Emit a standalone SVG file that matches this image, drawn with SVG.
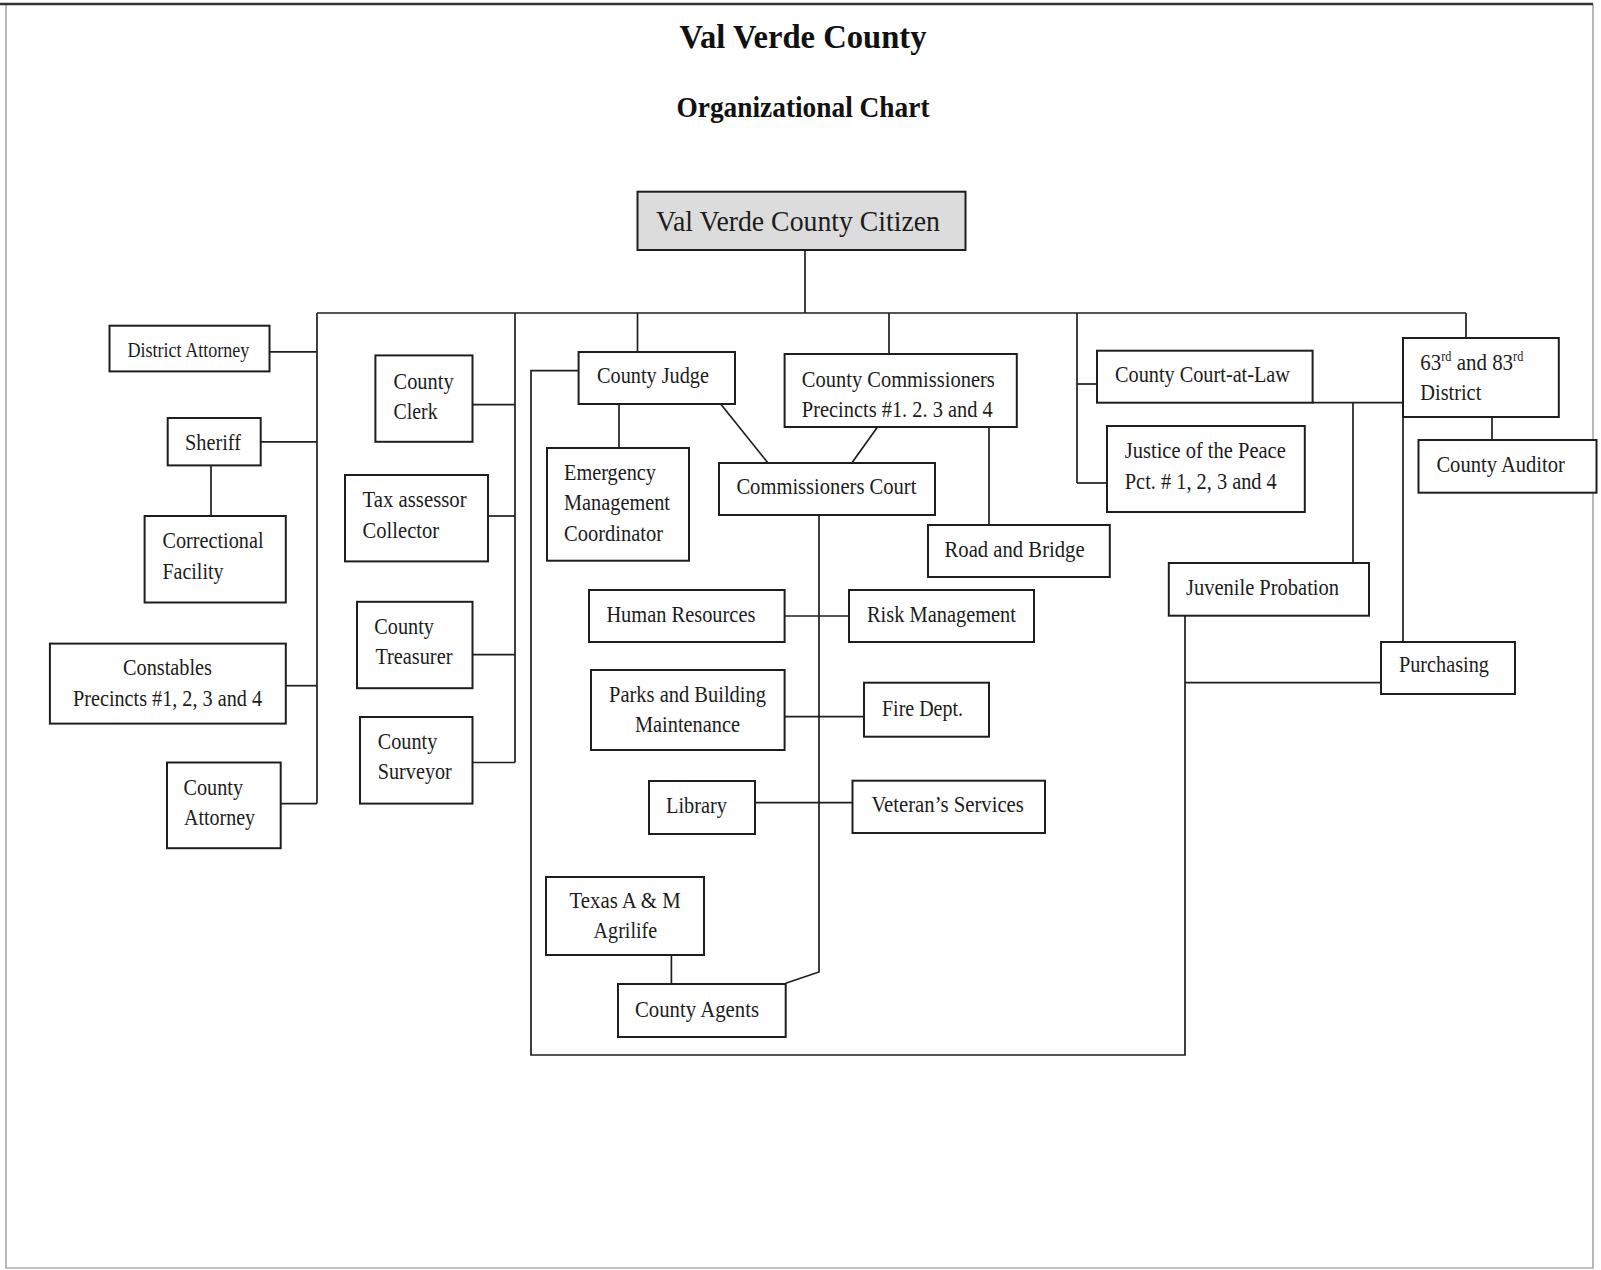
<svg xmlns="http://www.w3.org/2000/svg" width="1601" height="1270" viewBox="0 0 1601 1270">
<style>
.bx{fill:#fff;stroke:#1e1e1e;stroke-width:2}
.ln{fill:none;stroke:#1e1e1e;stroke-width:1.7}
.fr{fill:none;stroke:#8a8a8a;stroke-width:1.2}
.t{font-family:"Liberation Serif","Times New Roman",serif;font-size:24px;fill:#1c1c1c}
.h{font-family:"Liberation Serif","Times New Roman",serif;font-weight:bold;fill:#111}
.sup{font-size:14px;baseline-shift:9px}
</style>
<rect x="0" y="0" width="1601" height="1270" fill="#fff"/>
<g id="frame">
<path class="fr" d="M6,4 V1268 H1593 V4"/>
<path d="M0,4 H1593" stroke="#333" stroke-width="2.5"/>
</g>
<g id="titles">
<text class="h" x="803" y="48" font-size="34" text-anchor="middle" textLength="247" lengthAdjust="spacingAndGlyphs">Val Verde County</text>
<text class="h" x="803" y="117" font-size="30" text-anchor="middle" textLength="253" lengthAdjust="spacingAndGlyphs">Organizational Chart</text>
</g>
<g id="connectors">
<path class="ln" d="M805,250 V313"/>
<path class="ln" d="M317,313 H1466"/>
<path class="ln" d="M317,313 V803.6"/>
<path class="ln" d="M269.6,351.8 H317"/>
<path class="ln" d="M260.7,441.8 H317"/>
<path class="ln" d="M211,465.4 V516"/>
<path class="ln" d="M285.8,685.7 H317"/>
<path class="ln" d="M280.7,803.6 H317"/>
<path class="ln" d="M515,313 V762.5"/>
<path class="ln" d="M472.5,404.6 H515"/>
<path class="ln" d="M488,516 H515"/>
<path class="ln" d="M472.5,654.6 H515"/>
<path class="ln" d="M472.5,762.5 H515"/>
<path class="ln" d="M637.5,313 V352"/>
<path class="ln" d="M578.6,370.7 H531 V1055 H1185 V615.7"/>
<path class="ln" d="M619,404 V448"/>
<path class="ln" d="M720.7,404 L768,463"/>
<path class="ln" d="M889,313 V354"/>
<path class="ln" d="M877.5,427 L851.8,463"/>
<path class="ln" d="M989,427 V525"/>
<path class="ln" d="M819,515 V972 L785.7,983.3"/>
<path class="ln" d="M784.6,616 H849"/>
<path class="ln" d="M784.6,716.7 H864"/>
<path class="ln" d="M755,802.7 H852.5"/>
<path class="ln" d="M671.4,955 V984"/>
<path class="ln" d="M1077,313 V483"/>
<path class="ln" d="M1077,384 H1097"/>
<path class="ln" d="M1077,483 H1107"/>
<path class="ln" d="M1312.6,402.7 H1403"/>
<path class="ln" d="M1353,402.7 V563"/>
<path class="ln" d="M1466,313 V338"/>
<path class="ln" d="M1492,417 V440"/>
<path class="ln" d="M1403,417 V642"/>
<path class="ln" d="M1185,682.7 H1381"/>
</g>
<g id="citizen">
<rect class="bx" x="637.5" y="191.7" width="328" height="58.3" style="fill:#dcdcdc"/>
<text class="t" x="656" y="231" style="font-size:30px" textLength="284" lengthAdjust="spacingAndGlyphs">Val Verde County Citizen</text>
</g>
<g id="district-attorney">
<rect class="bx" x="109.5" y="325.7" width="160" height="45.7"/>
<text class="t" x="127.4" y="357" style="font-size:22px" textLength="122" lengthAdjust="spacingAndGlyphs">District Attorney</text>
</g>
<g id="sheriff">
<rect class="bx" x="167.7" y="418" width="93" height="47.4"/>
<text class="t" x="185" y="449.5" textLength="56" lengthAdjust="spacingAndGlyphs">Sheriff</text>
</g>
<g id="correctional-facility">
<rect class="bx" x="144.6" y="516" width="141.2" height="86.5"/>
<text class="t" x="162.5" y="548" textLength="101" lengthAdjust="spacingAndGlyphs">Correctional</text>
<text class="t" x="162.5" y="578.6" textLength="61" lengthAdjust="spacingAndGlyphs">Facility</text>
</g>
<g id="constables">
<rect class="bx" x="49.9" y="643.6" width="235.9" height="80"/>
<text class="t" x="123" y="675" textLength="89" lengthAdjust="spacingAndGlyphs">Constables</text>
<text class="t" x="73" y="706" textLength="189" lengthAdjust="spacingAndGlyphs">Precincts #1, 2, 3 and 4</text>
</g>
<g id="county-attorney">
<rect class="bx" x="167" y="762.5" width="113.7" height="85.7"/>
<text class="t" x="183.5" y="794.6" textLength="59.5" lengthAdjust="spacingAndGlyphs">County</text>
<text class="t" x="184" y="825" textLength="71" lengthAdjust="spacingAndGlyphs">Attorney</text>
</g>
<g id="county-clerk">
<rect class="bx" x="375.4" y="355.4" width="97.1" height="86.4"/>
<text class="t" x="393.6" y="389" textLength="60" lengthAdjust="spacingAndGlyphs">County</text>
<text class="t" x="393.6" y="418.5" textLength="44" lengthAdjust="spacingAndGlyphs">Clerk</text>
</g>
<g id="tax-assessor">
<rect class="bx" x="345" y="475" width="143" height="86.4"/>
<text class="t" x="362.6" y="507" textLength="104" lengthAdjust="spacingAndGlyphs">Tax assessor</text>
<text class="t" x="362.6" y="537.5" textLength="76.5" lengthAdjust="spacingAndGlyphs">Collector</text>
</g>
<g id="county-treasurer">
<rect class="bx" x="357" y="601.8" width="115.5" height="86.4"/>
<text class="t" x="374.3" y="634" textLength="59.6" lengthAdjust="spacingAndGlyphs">County</text>
<text class="t" x="375.4" y="664" textLength="77" lengthAdjust="spacingAndGlyphs">Treasurer</text>
</g>
<g id="county-surveyor">
<rect class="bx" x="360" y="717" width="112.5" height="86.6"/>
<text class="t" x="377.8" y="749" textLength="59.5" lengthAdjust="spacingAndGlyphs">County</text>
<text class="t" x="377.8" y="779" textLength="74" lengthAdjust="spacingAndGlyphs">Surveyor</text>
</g>
<g id="county-judge">
<rect class="bx" x="578.6" y="352" width="156.4" height="52"/>
<text class="t" x="597" y="383.3" textLength="112" lengthAdjust="spacingAndGlyphs">County Judge</text>
</g>
<g id="emergency-management">
<rect class="bx" x="547" y="448" width="142" height="112.7"/>
<text class="t" x="564" y="480" textLength="92" lengthAdjust="spacingAndGlyphs">Emergency</text>
<text class="t" x="564" y="510" textLength="106" lengthAdjust="spacingAndGlyphs">Management</text>
<text class="t" x="564" y="540.7" textLength="99" lengthAdjust="spacingAndGlyphs">Coordinator</text>
</g>
<g id="county-commissioners">
<rect class="bx" x="784.6" y="354" width="232.2" height="73"/>
<text class="t" x="801.8" y="387.3" textLength="193" lengthAdjust="spacingAndGlyphs">County Commissioners</text>
<text class="t" x="801.8" y="416.7" textLength="191" lengthAdjust="spacingAndGlyphs">Precincts #1. 2. 3 and 4</text>
</g>
<g id="commissioners-court">
<rect class="bx" x="719" y="463" width="216" height="52"/>
<text class="t" x="736.4" y="494" textLength="180" lengthAdjust="spacingAndGlyphs">Commissioners Court</text>
</g>
<g id="road-and-bridge">
<rect class="bx" x="928" y="525" width="181.8" height="52"/>
<text class="t" x="944.6" y="556.7" textLength="140" lengthAdjust="spacingAndGlyphs">Road and Bridge</text>
</g>
<g id="human-resources">
<rect class="bx" x="589" y="590" width="195.6" height="52"/>
<text class="t" x="606.4" y="621.7" textLength="149" lengthAdjust="spacingAndGlyphs">Human Resources</text>
</g>
<g id="risk-management">
<rect class="bx" x="849" y="590" width="185" height="52"/>
<text class="t" x="867" y="621.7" textLength="149" lengthAdjust="spacingAndGlyphs">Risk Management</text>
</g>
<g id="parks-building">
<rect class="bx" x="591" y="670" width="193.6" height="80"/>
<text class="t" x="609" y="701.7" textLength="157" lengthAdjust="spacingAndGlyphs">Parks and Building</text>
<text class="t" x="635" y="731.7" textLength="105" lengthAdjust="spacingAndGlyphs">Maintenance</text>
</g>
<g id="fire-dept">
<rect class="bx" x="864" y="682.7" width="125" height="54"/>
<text class="t" x="882" y="715.7" textLength="81" lengthAdjust="spacingAndGlyphs">Fire Dept.</text>
</g>
<g id="library">
<rect class="bx" x="649" y="781" width="106" height="53"/>
<text class="t" x="666" y="812.7" textLength="61" lengthAdjust="spacingAndGlyphs">Library</text>
</g>
<g id="veterans-services">
<rect class="bx" x="852.5" y="780.7" width="192.5" height="52.3"/>
<text class="t" x="871.4" y="811.7" textLength="152.5" lengthAdjust="spacingAndGlyphs">Veteran’s Services</text>
</g>
<g id="texas-am-agrilife">
<rect class="bx" x="546" y="877" width="158" height="78"/>
<text class="t" x="569.6" y="908" textLength="111" lengthAdjust="spacingAndGlyphs">Texas A &amp; M</text>
<text class="t" x="593.6" y="938" textLength="63.6" lengthAdjust="spacingAndGlyphs">Agrilife</text>
</g>
<g id="county-agents">
<rect class="bx" x="618" y="984" width="167.7" height="53"/>
<text class="t" x="635" y="1016.7" textLength="124" lengthAdjust="spacingAndGlyphs">County Agents</text>
</g>
<g id="county-court-at-law">
<rect class="bx" x="1097" y="350.7" width="215.6" height="52"/>
<text class="t" x="1115" y="381.7" textLength="175" lengthAdjust="spacingAndGlyphs">County Court-at-Law</text>
</g>
<g id="justice-of-the-peace">
<rect class="bx" x="1107" y="426" width="197.8" height="86"/>
<text class="t" x="1124.8" y="458.3" textLength="161" lengthAdjust="spacingAndGlyphs">Justice of the Peace</text>
<text class="t" x="1124.8" y="489.3" textLength="152" lengthAdjust="spacingAndGlyphs">Pct. # 1, 2, 3 and 4</text>
</g>
<g id="district-63-83">
<rect class="bx" x="1403" y="338" width="155.8" height="79"/>
<text class="t" x="1420.3" y="370" textLength="103" lengthAdjust="spacingAndGlyphs">63<tspan class="sup">rd</tspan> and 83<tspan class="sup">rd</tspan></text>
<text class="t" x="1420.3" y="400" textLength="61" lengthAdjust="spacingAndGlyphs">District</text>
</g>
<g id="county-auditor">
<rect class="bx" x="1418.5" y="440" width="178" height="52.7"/>
<text class="t" x="1436.4" y="471.7" textLength="128.5" lengthAdjust="spacingAndGlyphs">County Auditor</text>
</g>
<g id="juvenile-probation">
<rect class="bx" x="1168.8" y="563" width="200.2" height="52.7"/>
<text class="t" x="1186" y="595" textLength="153" lengthAdjust="spacingAndGlyphs">Juvenile Probation</text>
</g>
<g id="purchasing">
<rect class="bx" x="1381" y="642" width="134" height="52"/>
<text class="t" x="1398.9" y="671.7" textLength="90" lengthAdjust="spacingAndGlyphs">Purchasing</text>
</g>
</svg>
